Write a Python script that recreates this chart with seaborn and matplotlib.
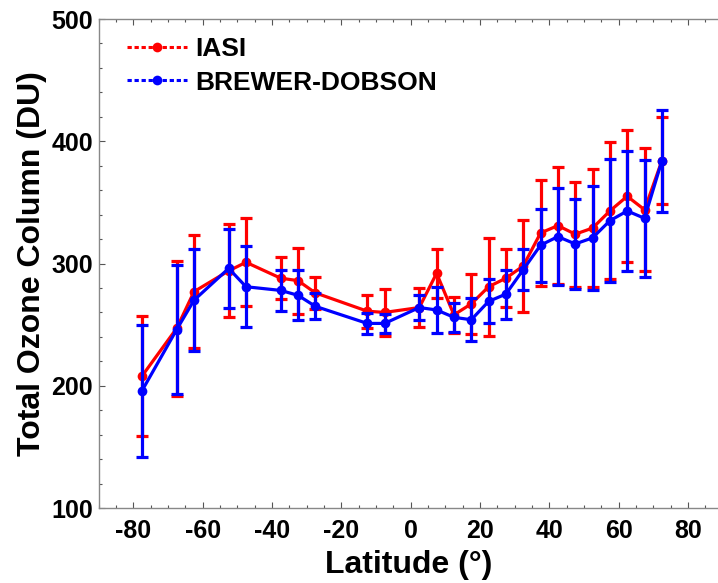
import numpy as np
import pandas as pd
import matplotlib
matplotlib.use("Agg")
import matplotlib.pyplot as plt
import seaborn as sns
from matplotlib.lines import Line2D
from matplotlib.ticker import MultipleLocator

# ---- data ----
latitude = [-77.5, -67.5, -62.5, -52.5, -47.5, -37.5, -32.5, -27.5, -12.5, -7.5,
            2.5, 7.5, 12.5, 17.5, 22.5, 27.5, 32.5, 37.5, 42.5, 47.5,
            52.5, 57.5, 62.5, 67.5, 72.5]
iasi_mean = [208, 247, 277, 294, 301, 288, 286, 276, 261, 260,
             264, 292, 258, 267, 281, 288, 298, 325, 331, 324,
             329, 343, 355, 344, 384]
iasi_err = [49, 55, 46, 38, 36, 17, 27, 13, 13.5, 19,
            16, 20, 14.5, 24.5, 40, 23.5, 38, 43, 48, 43,
            48, 56, 54, 50.5, 35.5]
bd_mean = [196, 246, 270, 296, 281, 278, 274, 265, 251, 251,
           264, 262, 256, 254, 269, 275, 295, 315, 322, 316,
           321, 335, 343, 337, 384]
bd_err = [54, 52.5, 41.5, 32, 33, 17, 20.5, 10.5, 8.5, 7.5,
          10.5, 19, 12, 17.5, 18, 20, 16.5, 30, 39.5, 37,
          42.5, 50.5, 49, 48, 41.5]
series_names = ["IASI", "BREWER-DOBSON"]
series_colors = ["#ff0000", "#0000ff"]
x_ticks = [-80, -60, -40, -20, 0, 20, 40, 60, 80]
y_ticks = [100, 200, 300, 400, 500]

df = pd.concat([
    pd.DataFrame({"lat": latitude, "val": iasi_mean, "err": iasi_err, "series": series_names[0]}),
    pd.DataFrame({"lat": latitude, "val": bd_mean, "err": bd_err, "series": series_names[1]}),
], ignore_index=True)

sns.set_style("ticks")
plt.rcParams["font.family"] = ["Liberation Sans", "DejaVu Sans"]
plt.rcParams["font.weight"] = "bold"
plt.rcParams["axes.unicode_minus"] = False
plt.rcParams["text.color"] = "black"
plt.rcParams["axes.labelcolor"] = "black"
plt.rcParams["xtick.labelcolor"] = "black"
plt.rcParams["ytick.labelcolor"] = "black"

fig = plt.figure(figsize=(7.18, 5.83), dpi=100)
ax = fig.add_axes([0.1375, 0.1286, 0.8625, 0.8388])

for name, col in zip(series_names, series_colors):
    sub = df[df["series"] == name]
    ax.errorbar(sub["lat"], sub["val"], yerr=sub["err"], fmt="none", ecolor=col,
                elinewidth=2.3, capsize=4.5, capthick=2.3)
    sns.lineplot(data=sub, x="lat", y="val", color=col, marker="o", markersize=7,
                 markeredgewidth=0, linewidth=2.3, ax=ax, legend=False, sort=False,
                 errorbar=None)

ax.set_xlim(-90, 88.7)
ax.set_ylim(100, 500)
ax.set_xticks(x_ticks)
ax.set_yticks(y_ticks)
ax.xaxis.set_minor_locator(MultipleLocator(5))
ax.yaxis.set_minor_locator(MultipleLocator(20))
ax.tick_params(axis="both", which="both", direction="in", colors="#555555",
               labelcolor="black", top=True, right=False)
ax.tick_params(axis="both", which="major", length=4, width=0.8, labelsize=18)
ax.tick_params(axis="both", which="minor", length=2.2, width=0.8)
ax.tick_params(axis="x", which="major", pad=8)
ax.tick_params(axis="y", which="major", pad=4)
for lab in ax.get_xticklabels() + ax.get_yticklabels():
    lab.set_fontweight("bold")
    lab.set_color("black")
for side in ["left", "bottom", "top"]:
    ax.spines[side].set_color("#888888")
    ax.spines[side].set_linewidth(1.0)
ax.spines["right"].set_visible(False)

ax.set_xlabel("Latitude (°)", fontsize=23, fontweight="bold", labelpad=5, color="black")
ax.set_ylabel("Total Ozone Column (DU)", fontsize=23, fontweight="bold", labelpad=3, color="black")

handles = [Line2D([], [], color=c, ls="--", dashes=(1.4, 0.9), lw=2.2, marker="o",
                  markersize=7, markeredgewidth=0) for c in series_colors]
leg = ax.legend(handles, series_names, loc="upper left", bbox_to_anchor=(0.045, 0.963),
                frameon=False, borderpad=0, borderaxespad=0, handlelength=2.3,
                handletextpad=0.3, labelspacing=0.36, prop={"size": 19, "weight": "bold"})
for t in leg.get_texts():
    t.set_color("black")

fig.savefig("out.png", dpi=100)
